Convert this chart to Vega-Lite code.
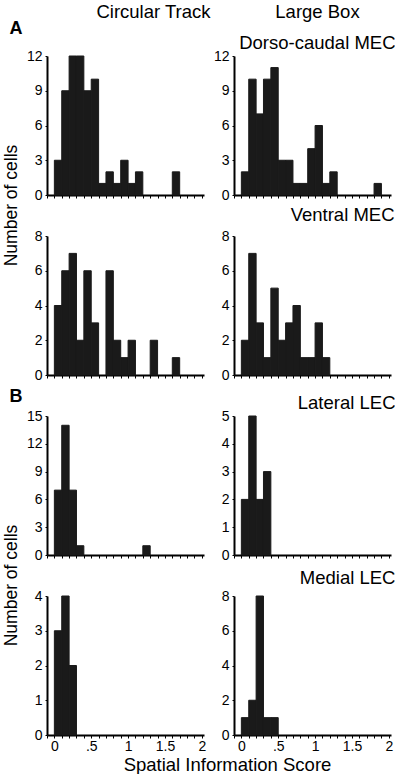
{
  "$schema": "https://vega.github.io/schema/vega-lite/v6.json",
  "background": "white",
  "padding": {"left": 1, "top": 2, "right": 0, "bottom": 0},
  "data": {"values": [
    {"setting": "Circular Track", "region": "Dorso-caudal MEC", "lo": 0.0, "hi": 0.1, "n": 3},
    {"setting": "Circular Track", "region": "Dorso-caudal MEC", "lo": 0.1, "hi": 0.2, "n": 9},
    {"setting": "Circular Track", "region": "Dorso-caudal MEC", "lo": 0.2, "hi": 0.3, "n": 12},
    {"setting": "Circular Track", "region": "Dorso-caudal MEC", "lo": 0.3, "hi": 0.4, "n": 12},
    {"setting": "Circular Track", "region": "Dorso-caudal MEC", "lo": 0.4, "hi": 0.5, "n": 9},
    {"setting": "Circular Track", "region": "Dorso-caudal MEC", "lo": 0.5, "hi": 0.6, "n": 10},
    {"setting": "Circular Track", "region": "Dorso-caudal MEC", "lo": 0.6, "hi": 0.7, "n": 1},
    {"setting": "Circular Track", "region": "Dorso-caudal MEC", "lo": 0.7, "hi": 0.8, "n": 2},
    {"setting": "Circular Track", "region": "Dorso-caudal MEC", "lo": 0.8, "hi": 0.9, "n": 1},
    {"setting": "Circular Track", "region": "Dorso-caudal MEC", "lo": 0.9, "hi": 1.0, "n": 3},
    {"setting": "Circular Track", "region": "Dorso-caudal MEC", "lo": 1.0, "hi": 1.1, "n": 1},
    {"setting": "Circular Track", "region": "Dorso-caudal MEC", "lo": 1.1, "hi": 1.2, "n": 2},
    {"setting": "Circular Track", "region": "Dorso-caudal MEC", "lo": 1.6, "hi": 1.7, "n": 2},
    {"setting": "Large Box", "region": "Dorso-caudal MEC", "lo": 0.0, "hi": 0.1, "n": 2},
    {"setting": "Large Box", "region": "Dorso-caudal MEC", "lo": 0.1, "hi": 0.2, "n": 10},
    {"setting": "Large Box", "region": "Dorso-caudal MEC", "lo": 0.2, "hi": 0.3, "n": 7},
    {"setting": "Large Box", "region": "Dorso-caudal MEC", "lo": 0.3, "hi": 0.4, "n": 10},
    {"setting": "Large Box", "region": "Dorso-caudal MEC", "lo": 0.4, "hi": 0.5, "n": 11},
    {"setting": "Large Box", "region": "Dorso-caudal MEC", "lo": 0.5, "hi": 0.6, "n": 3},
    {"setting": "Large Box", "region": "Dorso-caudal MEC", "lo": 0.6, "hi": 0.7, "n": 3},
    {"setting": "Large Box", "region": "Dorso-caudal MEC", "lo": 0.7, "hi": 0.8, "n": 1},
    {"setting": "Large Box", "region": "Dorso-caudal MEC", "lo": 0.8, "hi": 0.9, "n": 1},
    {"setting": "Large Box", "region": "Dorso-caudal MEC", "lo": 0.9, "hi": 1.0, "n": 4},
    {"setting": "Large Box", "region": "Dorso-caudal MEC", "lo": 1.0, "hi": 1.1, "n": 6},
    {"setting": "Large Box", "region": "Dorso-caudal MEC", "lo": 1.1, "hi": 1.2, "n": 1},
    {"setting": "Large Box", "region": "Dorso-caudal MEC", "lo": 1.2, "hi": 1.3, "n": 2},
    {"setting": "Large Box", "region": "Dorso-caudal MEC", "lo": 1.8, "hi": 1.9, "n": 1},
    {"setting": "Circular Track", "region": "Ventral MEC", "lo": 0.0, "hi": 0.1, "n": 4},
    {"setting": "Circular Track", "region": "Ventral MEC", "lo": 0.1, "hi": 0.2, "n": 6},
    {"setting": "Circular Track", "region": "Ventral MEC", "lo": 0.2, "hi": 0.3, "n": 7},
    {"setting": "Circular Track", "region": "Ventral MEC", "lo": 0.3, "hi": 0.4, "n": 2},
    {"setting": "Circular Track", "region": "Ventral MEC", "lo": 0.4, "hi": 0.5, "n": 6},
    {"setting": "Circular Track", "region": "Ventral MEC", "lo": 0.5, "hi": 0.6, "n": 3},
    {"setting": "Circular Track", "region": "Ventral MEC", "lo": 0.7, "hi": 0.8, "n": 6},
    {"setting": "Circular Track", "region": "Ventral MEC", "lo": 0.8, "hi": 0.9, "n": 2},
    {"setting": "Circular Track", "region": "Ventral MEC", "lo": 0.9, "hi": 1.0, "n": 1},
    {"setting": "Circular Track", "region": "Ventral MEC", "lo": 1.0, "hi": 1.1, "n": 2},
    {"setting": "Circular Track", "region": "Ventral MEC", "lo": 1.3, "hi": 1.4, "n": 2},
    {"setting": "Circular Track", "region": "Ventral MEC", "lo": 1.6, "hi": 1.7, "n": 1},
    {"setting": "Large Box", "region": "Ventral MEC", "lo": 0.0, "hi": 0.1, "n": 2},
    {"setting": "Large Box", "region": "Ventral MEC", "lo": 0.1, "hi": 0.2, "n": 7},
    {"setting": "Large Box", "region": "Ventral MEC", "lo": 0.2, "hi": 0.3, "n": 3},
    {"setting": "Large Box", "region": "Ventral MEC", "lo": 0.3, "hi": 0.4, "n": 1},
    {"setting": "Large Box", "region": "Ventral MEC", "lo": 0.4, "hi": 0.5, "n": 5},
    {"setting": "Large Box", "region": "Ventral MEC", "lo": 0.5, "hi": 0.6, "n": 2},
    {"setting": "Large Box", "region": "Ventral MEC", "lo": 0.6, "hi": 0.7, "n": 3},
    {"setting": "Large Box", "region": "Ventral MEC", "lo": 0.7, "hi": 0.8, "n": 4},
    {"setting": "Large Box", "region": "Ventral MEC", "lo": 0.8, "hi": 0.9, "n": 1},
    {"setting": "Large Box", "region": "Ventral MEC", "lo": 0.9, "hi": 1.0, "n": 1},
    {"setting": "Large Box", "region": "Ventral MEC", "lo": 1.0, "hi": 1.1, "n": 3},
    {"setting": "Large Box", "region": "Ventral MEC", "lo": 1.1, "hi": 1.2, "n": 1},
    {"setting": "Circular Track", "region": "Lateral LEC", "lo": 0.0, "hi": 0.1, "n": 7},
    {"setting": "Circular Track", "region": "Lateral LEC", "lo": 0.1, "hi": 0.2, "n": 14},
    {"setting": "Circular Track", "region": "Lateral LEC", "lo": 0.2, "hi": 0.3, "n": 7},
    {"setting": "Circular Track", "region": "Lateral LEC", "lo": 0.3, "hi": 0.4, "n": 1},
    {"setting": "Circular Track", "region": "Lateral LEC", "lo": 1.2, "hi": 1.3, "n": 1},
    {"setting": "Large Box", "region": "Lateral LEC", "lo": 0.0, "hi": 0.1, "n": 2},
    {"setting": "Large Box", "region": "Lateral LEC", "lo": 0.1, "hi": 0.2, "n": 5},
    {"setting": "Large Box", "region": "Lateral LEC", "lo": 0.2, "hi": 0.3, "n": 2},
    {"setting": "Large Box", "region": "Lateral LEC", "lo": 0.3, "hi": 0.4, "n": 3},
    {"setting": "Circular Track", "region": "Medial LEC", "lo": 0.0, "hi": 0.1, "n": 3},
    {"setting": "Circular Track", "region": "Medial LEC", "lo": 0.1, "hi": 0.2, "n": 4},
    {"setting": "Circular Track", "region": "Medial LEC", "lo": 0.2, "hi": 0.3, "n": 2},
    {"setting": "Large Box", "region": "Medial LEC", "lo": 0.0, "hi": 0.1, "n": 1},
    {"setting": "Large Box", "region": "Medial LEC", "lo": 0.1, "hi": 0.2, "n": 2},
    {"setting": "Large Box", "region": "Medial LEC", "lo": 0.2, "hi": 0.3, "n": 8},
    {"setting": "Large Box", "region": "Medial LEC", "lo": 0.3, "hi": 0.4, "n": 1},
    {"setting": "Large Box", "region": "Medial LEC", "lo": 0.4, "hi": 0.5, "n": 1}
  ]},
  "columns": 2,
  "spacing": {"row": 41, "column": 30},
  "bounds": "flush",
  "concat": [
    {
      "width": 157, "height": 139,
      "transform": [{"filter": "datum.setting === 'Circular Track' && datum.region === 'Dorso-caudal MEC'"}],
      "mark": {"type": "bar", "fill": "#1a1a1a", "fillOpacity": 1, "stroke": "#1a1a1a", "strokeOpacity": 1, "strokeWidth": 1, "binSpacing": 0},
      "encoding": {
        "x": {"field": "lo", "type": "quantitative", "scale": {"domain": [-0.1, 2.03], "nice": false, "zero": false},
          "axis": {"domain": true, "domainColor": "#000000", "domainWidth": 2, "domainOpacity": 1, "tickColor": "#000000", "values": [-0.1,0,0.1,0.2,0.3,0.4,0.5,0.6,0.7,0.8,0.9,1,1.1,1.2,1.3,1.4,1.5,1.6,1.7,1.8,1.9,2], "labels": false,
            "title": "Circular Track", "titleX": 106, "titleY": -178, "titleAlign": "center", "titleBaseline": "alphabetic", "titleAngle": 0}},
        "x2": {"field": "hi"},
        "y": {"field": "n", "type": "quantitative", "scale": {"domain": [0, 12], "nice": false},
          "axis": {"domain": true, "domainColor": "#000000", "domainWidth": 2, "domainOpacity": 1, "tickColor": "#000000", "values": [0,3,6,9,12], "title": "A", "titleX": -38, "titleY": -23, "titleAngle": 0, "titleAlign": "left", "titleBaseline": "alphabetic", "titleFontWeight": "bold", "titleFontSize": 18}},
        "y2": {"datum": 0}
      }
    },
    {
      "width": 157, "height": 139,
      "transform": [{"filter": "datum.setting === 'Large Box' && datum.region === 'Dorso-caudal MEC'"}],
      "mark": {"type": "bar", "fill": "#1a1a1a", "fillOpacity": 1, "stroke": "#1a1a1a", "strokeOpacity": 1, "strokeWidth": 1, "binSpacing": 0},
      "encoding": {
        "x": {"field": "lo", "type": "quantitative", "scale": {"domain": [-0.1, 2.03], "nice": false, "zero": false},
          "axis": {"domain": true, "domainColor": "#000000", "domainWidth": 2, "domainOpacity": 1, "tickColor": "#000000", "values": [-0.1,0,0.1,0.2,0.3,0.4,0.5,0.6,0.7,0.8,0.9,1,1.1,1.2,1.3,1.4,1.5,1.6,1.7,1.8,1.9,2], "labels": false,
            "title": "Large Box", "titleX": 83, "titleY": -178, "titleAlign": "center", "titleBaseline": "alphabetic", "titleAngle": 0}},
        "x2": {"field": "hi"},
        "y": {"field": "n", "type": "quantitative", "scale": {"domain": [0, 12], "nice": false},
          "axis": {"domain": true, "domainColor": "#000000", "domainWidth": 2, "domainOpacity": 1, "tickColor": "#000000", "values": [0,3,6,9,12], "title": "Dorso-caudal MEC", "titleX": 161, "titleY": -8, "titleAngle": 0, "titleAlign": "right", "titleBaseline": "alphabetic"}},
        "y2": {"datum": 0}
      }
    },
    {
      "width": 157, "height": 139,
      "transform": [{"filter": "datum.setting === 'Circular Track' && datum.region === 'Ventral MEC'"}],
      "mark": {"type": "bar", "fill": "#1a1a1a", "fillOpacity": 1, "stroke": "#1a1a1a", "strokeOpacity": 1, "strokeWidth": 1, "binSpacing": 0},
      "encoding": {
        "x": {"field": "lo", "type": "quantitative", "scale": {"domain": [-0.1, 2.03], "nice": false, "zero": false},
          "axis": {"domain": true, "domainColor": "#000000", "domainWidth": 2, "domainOpacity": 1, "tickColor": "#000000", "values": [-0.1,0,0.1,0.2,0.3,0.4,0.5,0.6,0.7,0.8,0.9,1,1.1,1.2,1.3,1.4,1.5,1.6,1.7,1.8,1.9,2], "labels": false, "title": null}},
        "x2": {"field": "hi"},
        "y": {"field": "n", "type": "quantitative", "scale": {"domain": [0, 8], "nice": false},
          "axis": {"domain": true, "domainColor": "#000000", "domainWidth": 2, "domainOpacity": 1, "tickColor": "#000000", "values": [0,2,4,6,8], "title": "Number of cells", "titleX": -31, "titleY": -31, "titleAngle": 270, "titleAlign": "center", "titleBaseline": "alphabetic", "titleFontSize": 17.5}},
        "y2": {"datum": 0}
      }
    },
    {
      "width": 157, "height": 139,
      "transform": [{"filter": "datum.setting === 'Large Box' && datum.region === 'Ventral MEC'"}],
      "mark": {"type": "bar", "fill": "#1a1a1a", "fillOpacity": 1, "stroke": "#1a1a1a", "strokeOpacity": 1, "strokeWidth": 1, "binSpacing": 0},
      "encoding": {
        "x": {"field": "lo", "type": "quantitative", "scale": {"domain": [-0.1, 2.03], "nice": false, "zero": false},
          "axis": {"domain": true, "domainColor": "#000000", "domainWidth": 2, "domainOpacity": 1, "tickColor": "#000000", "values": [-0.1,0,0.1,0.2,0.3,0.4,0.5,0.6,0.7,0.8,0.9,1,1.1,1.2,1.3,1.4,1.5,1.6,1.7,1.8,1.9,2], "labels": false, "title": null}},
        "x2": {"field": "hi"},
        "y": {"field": "n", "type": "quantitative", "scale": {"domain": [0, 8], "nice": false},
          "axis": {"domain": true, "domainColor": "#000000", "domainWidth": 2, "domainOpacity": 1, "tickColor": "#000000", "values": [0,2,4,6,8], "title": "Ventral MEC", "titleX": 160, "titleY": -16, "titleAngle": 0, "titleAlign": "right", "titleBaseline": "alphabetic"}},
        "y2": {"datum": 0}
      }
    },
    {
      "width": 157, "height": 139,
      "transform": [{"filter": "datum.setting === 'Circular Track' && datum.region === 'Lateral LEC'"}],
      "mark": {"type": "bar", "fill": "#1a1a1a", "fillOpacity": 1, "stroke": "#1a1a1a", "strokeOpacity": 1, "strokeWidth": 1, "binSpacing": 0},
      "encoding": {
        "x": {"field": "lo", "type": "quantitative", "scale": {"domain": [-0.1, 2.03], "nice": false, "zero": false},
          "axis": {"domain": true, "domainColor": "#000000", "domainWidth": 2, "domainOpacity": 1, "tickColor": "#000000", "values": [-0.1,0,0.1,0.2,0.3,0.4,0.5,0.6,0.7,0.8,0.9,1,1.1,1.2,1.3,1.4,1.5,1.6,1.7,1.8,1.9,2], "labels": false, "title": null}},
        "x2": {"field": "hi"},
        "y": {"field": "n", "type": "quantitative", "scale": {"domain": [0, 15], "nice": false},
          "axis": {"domain": true, "domainColor": "#000000", "domainWidth": 2, "domainOpacity": 1, "tickColor": "#000000", "values": [0,3,6,9,12,15], "title": "B", "titleX": -38, "titleY": -15, "titleAngle": 0, "titleAlign": "left", "titleBaseline": "alphabetic", "titleFontWeight": "bold", "titleFontSize": 18}},
        "y2": {"datum": 0}
      }
    },
    {
      "width": 157, "height": 139,
      "transform": [{"filter": "datum.setting === 'Large Box' && datum.region === 'Lateral LEC'"}],
      "mark": {"type": "bar", "fill": "#1a1a1a", "fillOpacity": 1, "stroke": "#1a1a1a", "strokeOpacity": 1, "strokeWidth": 1, "binSpacing": 0},
      "encoding": {
        "x": {"field": "lo", "type": "quantitative", "scale": {"domain": [-0.1, 2.03], "nice": false, "zero": false},
          "axis": {"domain": true, "domainColor": "#000000", "domainWidth": 2, "domainOpacity": 1, "tickColor": "#000000", "values": [-0.1,0,0.1,0.2,0.3,0.4,0.5,0.6,0.7,0.8,0.9,1,1.1,1.2,1.3,1.4,1.5,1.6,1.7,1.8,1.9,2], "labels": false, "title": null}},
        "x2": {"field": "hi"},
        "y": {"field": "n", "type": "quantitative", "scale": {"domain": [0, 5], "nice": false},
          "axis": {"domain": true, "domainColor": "#000000", "domainWidth": 2, "domainOpacity": 1, "tickColor": "#000000", "values": [0,1,2,3,4,5], "title": "Lateral LEC", "titleX": 161, "titleY": -8, "titleAngle": 0, "titleAlign": "right", "titleBaseline": "alphabetic"}},
        "y2": {"datum": 0}
      }
    },
    {
      "width": 157, "height": 139,
      "transform": [{"filter": "datum.setting === 'Circular Track' && datum.region === 'Medial LEC'"}],
      "mark": {"type": "bar", "fill": "#1a1a1a", "fillOpacity": 1, "stroke": "#1a1a1a", "strokeOpacity": 1, "strokeWidth": 1, "binSpacing": 0},
      "encoding": {
        "x": {"field": "lo", "type": "quantitative", "scale": {"domain": [-0.1, 2.03], "nice": false, "zero": false},
          "axis": {"domain": true, "domainColor": "#000000", "domainWidth": 2, "domainOpacity": 1, "tickColor": "#000000", "values": [-0.1,0,0.1,0.2,0.3,0.4,0.5,0.6,0.7,0.8,0.9,1,1.1,1.2,1.3,1.4,1.5,1.6,1.7,1.8,1.9,2],
            "labelExpr": "datum.value == 0 ? '0' : datum.value == 0.5 ? '.5' : datum.value == 1 ? '1' : datum.value == 1.5 ? '1.5' : datum.value == 2 ? '2' : ''",
            "title": "Spatial Information Score", "titleX": 180, "titleY": 35, "titleAlign": "center", "titleBaseline": "alphabetic", "titleAngle": 0}},
        "x2": {"field": "hi"},
        "y": {"field": "n", "type": "quantitative", "scale": {"domain": [0, 4], "nice": false},
          "axis": {"domain": true, "domainColor": "#000000", "domainWidth": 2, "domainOpacity": 1, "tickColor": "#000000", "values": [0,1,2,3,4], "title": "Number of cells", "titleX": -31, "titleY": -11, "titleAngle": 270, "titleAlign": "center", "titleBaseline": "alphabetic", "titleFontSize": 17.5}},
        "y2": {"datum": 0}
      }
    },
    {
      "width": 157, "height": 139,
      "transform": [{"filter": "datum.setting === 'Large Box' && datum.region === 'Medial LEC'"}],
      "mark": {"type": "bar", "fill": "#1a1a1a", "fillOpacity": 1, "stroke": "#1a1a1a", "strokeOpacity": 1, "strokeWidth": 1, "binSpacing": 0},
      "encoding": {
        "x": {"field": "lo", "type": "quantitative", "scale": {"domain": [-0.1, 2.03], "nice": false, "zero": false},
          "axis": {"domain": true, "domainColor": "#000000", "domainWidth": 2, "domainOpacity": 1, "tickColor": "#000000", "values": [-0.1,0,0.1,0.2,0.3,0.4,0.5,0.6,0.7,0.8,0.9,1,1.1,1.2,1.3,1.4,1.5,1.6,1.7,1.8,1.9,2],
            "labelExpr": "datum.value == 0 ? '0' : datum.value == 0.5 ? '.5' : datum.value == 1 ? '1' : datum.value == 1.5 ? '1.5' : datum.value == 2 ? '2' : ''",
            "title": null}},
        "x2": {"field": "hi"},
        "y": {"field": "n", "type": "quantitative", "scale": {"domain": [0, 8], "nice": false},
          "axis": {"domain": true, "domainColor": "#000000", "domainWidth": 2, "domainOpacity": 1, "tickColor": "#000000", "values": [0,2,4,6,8], "title": "Medial LEC", "titleX": 161, "titleY": -13, "titleAngle": 0, "titleAlign": "right", "titleBaseline": "alphabetic"}},
        "y2": {"datum": 0}
      }
    }
  ],
  "config": {
    "view": {"stroke": null},
    "font": "Liberation Sans",
    "axis": {
      "grid": false, "zindex": 1,
      "tickWidth": 1,
      "labelColor": "#000000", "labelFont": "Liberation Sans", "labelFontSize": 14,
      "labelFlush": false, "labelOverlap": false,
      "titleColor": "#000000", "titleFont": "Liberation Sans", "titleFontSize": 18.5, "titleFontWeight": "normal"
    },
    "axisX": {"tickSize": 3, "labelPadding": 1},
    "axisY": {"tickSize": 2, "labelPadding": 3}
  }
}
